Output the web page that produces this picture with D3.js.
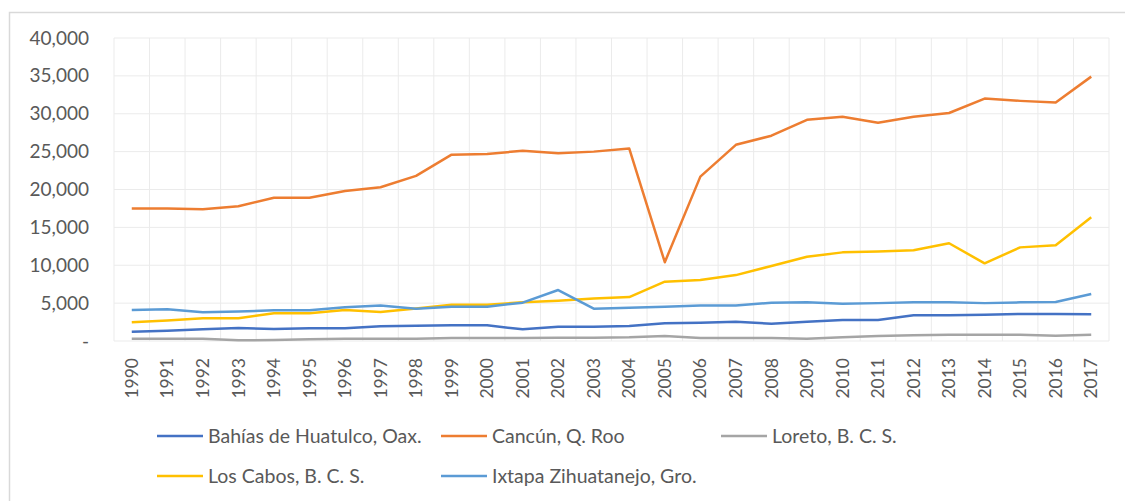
<!DOCTYPE html>
<html>
<head>
<meta charset="utf-8">
<script src="https://cdn.jsdelivr.net/npm/d3@7"></script>
<style>
  body { margin: 0; background: #fff; }
  svg { display: block; font-family: Lato, "Open Sans", sans-serif; }
</style>
</head>
<body>
<div id="chart"></div>
<script>
(function () {
  var years = d3.range(1990, 2018).map(String);

  var huatulco = [1230, 1360, 1540, 1720, 1580, 1670, 1670, 1940, 2020, 2070, 2070, 1540, 1890, 1890,
                  1980, 2330, 2420, 2550, 2290, 2550, 2770, 2770, 3390, 3390, 3480, 3560, 3560, 3520];
  var cancun = [17500, 17500, 17400, 17800, 18900, 18900, 19800, 20300, 21800, 24600, 24700, 25100, 24800, 25000,
                25400, 10400, 21700, 25900, 27100, 29200, 29600, 28800, 29600, 30100, 32000, 31700, 31500, 34900];
  var loreto = [310, 310, 310, 100, 130, 220, 310, 310, 310, 400, 400, 400, 440, 440,
                480, 660, 400, 400, 400, 300, 480, 660, 750, 840, 840, 840, 700, 840];
  var losCabos = [2470, 2700, 3000, 3000, 3650, 3650, 4100, 3830, 4300, 4800, 4800, 5100, 5300, 5600,
                  5800, 7830, 8050, 8700, 9900, 11130, 11700, 11800, 11970, 12900, 10250, 12360, 12630, 16330];
  var ixtapa = [4090, 4180, 3780, 3900, 4050, 4050, 4440, 4700, 4270, 4530, 4530, 5060, 6730, 4270,
                4400, 4530, 4700, 4700, 5060, 5100, 4930, 5000, 5100, 5100, 5000, 5100, 5150, 6200];

  var yTicks = [0, 5000, 10000, 15000, 20000, 25000, 30000, 35000, 40000];

  var series = [
    { name: "Bahías de Huatulco, Oax.", values: huatulco, color: "#4472C4" },
    { name: "Cancún, Q. Roo", values: cancun, color: "#ED7D31" },
    { name: "Loreto, B. C. S.", values: loreto, color: "#A5A5A5" },
    { name: "Los Cabos, B. C. S.", values: losCabos, color: "#FFC000" },
    { name: "Ixtapa Zihuatanejo, Gro.", values: ixtapa, color: "#5B9BD5" }
  ];

  var w = 1125,
      h = 501,
      left = 114, right = 1109, top = 38, bottom = 341;

  var svg = d3.select("#chart")
      .append("svg")
      .attr("width", w)
      .attr("height", h);

  // outer chart border
  svg.append("rect")
      .attr("x", 9.5).attr("y", 12.5)
      .attr("width", w).attr("height", h)
      .attr("fill", "none")
      .attr("stroke", "#d9d9d9")
      .attr("stroke-width", 1.5);

  var x = d3.scaleBand().domain(years).range([left, right]).padding(0);
  var y = d3.scaleLinear().domain([0, 40000]).range([bottom, top]);

  // gridlines
  svg.selectAll("line.hgrid")
      .data(yTicks)
      .enter()
      .append("line")
      .attr("class", "hgrid")
      .attr("x1", left).attr("x2", right)
      .attr("y1", function(d) { return y(d); })
      .attr("y2", function(d) { return y(d); })
      .attr("stroke", "#ebebeb")
      .attr("stroke-width", 1);

  svg.selectAll("line.vgrid")
      .data(years.concat(["end"]))
      .enter()
      .append("line")
      .attr("class", "vgrid")
      .attr("x1", function(d) { return d === "end" ? right : x(d); })
      .attr("x2", function(d) { return d === "end" ? right : x(d); })
      .attr("y1", top).attr("y2", bottom)
      .attr("stroke", "#ebebeb")
      .attr("stroke-width", 1);

  // y axis labels
  var yAxis = d3.axisLeft(y)
      .tickValues(yTicks)
      .tickSize(0)
      .tickPadding(25)
      .tickFormat(function(d) { return d === 0 ? "-" : d3.format(",")(d); });

  svg.append("g")
      .attr("transform", "translate(" + left + ",0)")
      .call(yAxis)
      .call(function(g) { g.select(".domain").remove(); })
      .selectAll("text")
      .attr("font-family", "Lato, sans-serif")
      .attr("font-size", "19px")
      .attr("fill", "#595959");

  // x axis labels
  var xAxis = d3.axisBottom(x).tickSize(0).tickPadding(0);
  svg.append("g")
      .attr("transform", "translate(0," + bottom + ")")
      .call(xAxis)
      .call(function(g) { g.select(".domain").remove(); })
      .selectAll("text")
      .attr("font-family", "Lato, sans-serif")
      .attr("font-size", "17.5px")
      .attr("fill", "#595959")
      .attr("text-anchor", "end")
      .attr("dy", "0.35em")
      .attr("transform", "translate(0,17) rotate(-90)");

  var line = d3.line()
      .x(function(d, i) { return x(years[i]) + x.bandwidth() / 2; })
      .y(function(d) { return y(d); });

  svg.selectAll("path.series")
      .data(series)
      .enter()
      .append("path")
      .attr("class", "series")
      .attr("d", function(d) { return line(d.values); })
      .attr("fill", "none")
      .attr("stroke", function(d) { return d.color; })
      .attr("stroke-width", 2.5)
      .attr("stroke-linejoin", "round");

  // legend
  var legendPos = [[157, 436], [441, 436], [721, 436], [157, 476], [441, 476]];
  var lg = svg.selectAll("g.legend")
      .data(series)
      .enter()
      .append("g")
      .attr("class", "legend")
      .attr("transform", function(d, i) { return "translate(" + legendPos[i][0] + "," + legendPos[i][1] + ")"; });

  lg.append("line")
      .attr("x1", 0).attr("x2", 46)
      .attr("y1", 0).attr("y2", 0)
      .attr("stroke", function(d) { return d.color; })
      .attr("stroke-width", 2.5);

  lg.append("text")
      .attr("x", 51)
      .attr("y", 0)
      .attr("dy", "0.35em")
      .attr("font-size", "19.5px")
      .attr("fill", "#595959")
      .text(function(d) { return d.name; });
})();
</script>
</body>
</html>
